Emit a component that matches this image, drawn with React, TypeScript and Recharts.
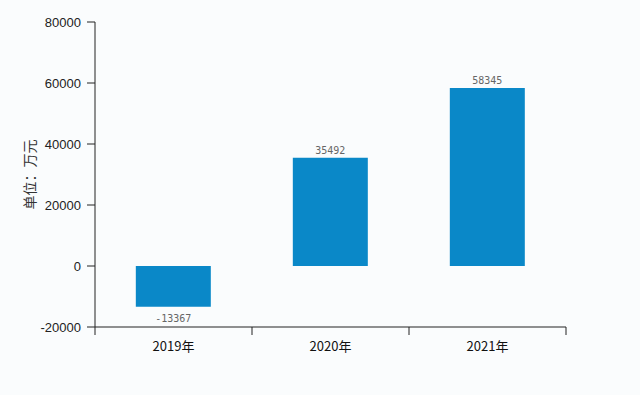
import { BarChart, Bar, XAxis, YAxis, LabelList } from "recharts";

const years = ["2019年", "2020年", "2021年"];
const profit = [-13367, 35492, 58345];
const yTicks = [-20000, 0, 20000, 40000, 60000, 80000];
const boundaryTicks = [0, 1, 2, 3];

const chartData = years.map((year, i) => ({ year, profit: profit[i] }));

const ValueLabel = (props: any) => {
  const { x, y, width, height, value } = props;
  const top = Math.min(y, y + height);
  const bottom = Math.max(y, y + height);
  const neg = value < 0;
  return (
    <text
      x={x + width / 2}
      y={neg ? bottom + 15 : top - 4}
      textAnchor="middle"
      fontSize={10}
      fill="#666"
      fontFamily="'DejaVu Sans Mono', monospace"
    >
      {value}
    </text>
  );
};

const NoTick = () => <g />;

const App = () => {
  return (
    <div
      style={{
        position: "absolute",
        left: 0,
        top: 0,
        width: 640,
        height: 395,
        background: "#fafcfd",
      }}
    >
      <BarChart
        width={640}
        height={395}
        data={chartData}
        margin={{ top: 22, right: 74, left: 0, bottom: 0 }}
        barCategoryGap="26%"
      >
        <XAxis
          xAxisId="a_grid"
          type="number"
          dataKey={() => 0}
          domain={[0, 3]}
          ticks={boundaryTicks}
          tick={NoTick}
          tickLine={{ stroke: "#222" }}
          tickSize={8}
          height={1}
          stroke="#222"
          allowDataOverflow
        />
        <XAxis
          xAxisId="b_cat"
          dataKey="year"
          axisLine={false}
          tickLine={false}
          height={67}
          tickMargin={8}
          tick={{ fill: "#111", fontSize: 13, fontFamily: "'Noto Sans CJK SC'" }}
        />
        <YAxis
          domain={[-20000, 80000]}
          ticks={yTicks}
          width={95}
          tickSize={8}
          tickMargin={6}
          stroke="#222"
          tick={{ fill: "#222", fontSize: 13, fontFamily: "Arial, 'Liberation Sans'" }}
          label={{
            value: "单位：万元",
            angle: -90,
            position: "insideLeft",
            offset: 30,
            textAnchor: "middle",
            fill: "#333",
            fontSize: 14,
            fontFamily: "'Noto Sans CJK SC'",
          }}
        />
        <Bar
          xAxisId="b_cat"
          dataKey="profit"
          fill="#0a88c8"
          isAnimationActive={false}
        >
          <LabelList dataKey="profit" content={ValueLabel} />
        </Bar>
      </BarChart>
    </div>
  );
};

export default App;
